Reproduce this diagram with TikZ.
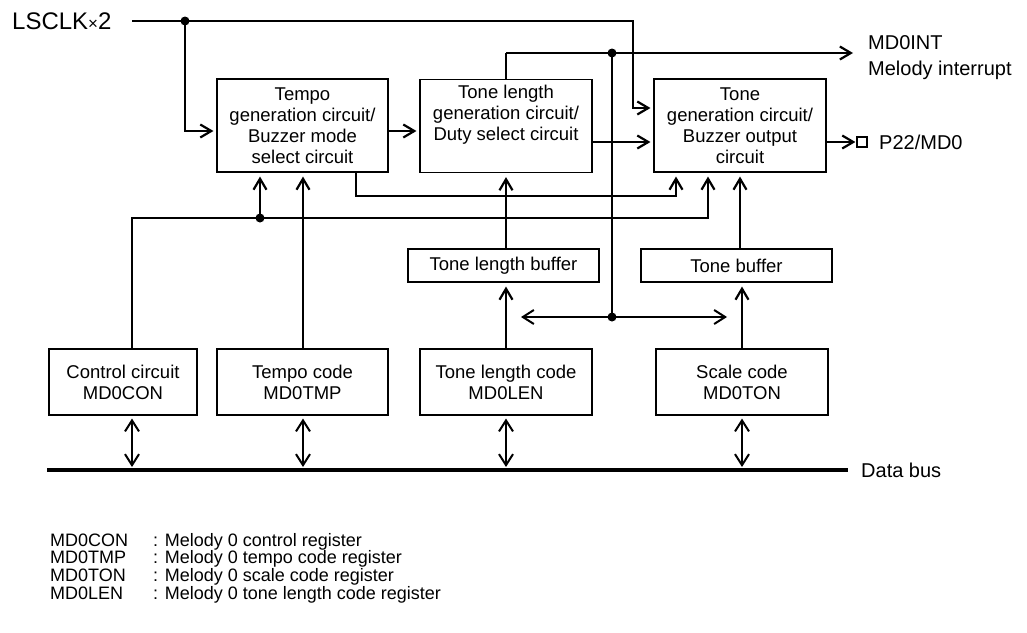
\documentclass[tikz,border=0pt]{standalone}
\usepackage{fontspec}
\setmainfont{Liberation Sans}
\usetikzlibrary{arrows.meta,positioning,calc}
\tikzset{
  blk/.style={draw,line width=1.1pt,align=center,inner sep=0pt,
              font=\fontsize{18.5}{21}\selectfont},
  thin/.style={line width=1.2pt},
  thick/.style={line width=2.4pt},
  tip/.style={-{Straight Barb[length=11pt,width=13pt,line width=2.2pt]}},
  twoway/.style={{Straight Barb[length=11pt,width=14pt,line width=2pt]}-{Straight Barb[length=11pt,width=14pt,line width=2pt]},line width=2pt},
  busline/.style={line width=4pt},
  dot/.style={circle,fill,inner sep=0pt,minimum size=9pt},
  sig/.style={font=\fontsize{20}{24}\selectfont,inner sep=0pt},
  key/.style={font=\fontsize{18}{20}\selectfont,inner sep=0pt,anchor=base west},
}
\begin{document}
\begin{tikzpicture}[x=1pt,y=-1pt]
  \useasboundingbox (0,0) rectangle (1027,632);
  % circuit blocks
  \node[blk,minimum width=171pt,minimum height=93pt] (tempo) at (302.5,125.5)
    {Tempo\\generation circuit/\\Buzzer mode\\select circuit};
  \node[blk,minimum width=172pt,minimum height=93pt,anchor=north] (tlen) at (506,79)
    {Tone length\\generation circuit/\\Duty select circuit\\\strut};
  \node[blk,minimum width=172pt,minimum height=93pt] (tgen) at (740,125.5)
    {Tone\\generation circuit/\\Buzzer output\\circuit};
  \node[blk,minimum width=191pt,minimum height=33pt] (tlbuf) at (503.5,265.5) {Tone length buffer};
  \node[blk,minimum width=191pt,minimum height=33pt] (tbuf) at (736.5,265.5) {Tone buffer};
  % registers
  \node[blk,minimum width=148pt,minimum height=66pt] (ctrl) at (123,382) {Control circuit\\MD0CON};
  \node[blk,minimum width=171pt,minimum height=66pt] (tcode) at (302.5,382) {Tempo code\\MD0TMP};
  \node[blk,minimum width=172pt,minimum height=66pt] (lcode) at (506,382) {Tone length code\\MD0LEN};
  \node[blk,minimum width=172pt,minimum height=66pt] (scode) at (742,382) {Scale code\\MD0TON};

  % clock input
  \node[sig,anchor=west,font=\fontsize{24}{28}\selectfont] (lsclk) at (12,21) {LSCLK{\fontsize{17}{17}\selectfont×}2};
  \coordinate (ck) at (185,21);
  \node[dot] at (ck) {};
  \draw[thin,tip] (132,21) -| (633,108) -- ($(tgen.west|-0,108)+(-3,0)$);
  \draw[thick,tip] (ck) |- ($(tempo.west|-0,131)+(-3,0)$);

  % chain through the upper blocks
  \draw[thick,tip] (tempo.east|-0,131) -- ($(tlen.west|-0,131)+(-3,0)$);
  \draw[thick,tip] (tlen.east|-0,142) -- ($(tgen.west|-0,142)+(-3,0)$);

  % interrupt output
  \node[sig,anchor=west] (int) at (868,43) {MD0INT};
  \node[sig,anchor=west] at (868,70) {Melody interrupt};
  \coordinate (ip) at (612,53);
  \draw[thin] (tlen.north) -- (506,53);
  \draw[thick,tip] (506,53) -- (853,53);
  \node[dot] at (ip) {};
  \coordinate (mid) at (612,317);
  \draw[thick] (ip) -- (mid);
  \node[dot] at (mid) {};
  \draw[twoway,line width=2.4pt] (521,317) -- (727,317);

  % buzzer pin
  \node[draw,thin,minimum size=10pt,inner sep=0pt] (pin) at (862,142) {};
  \node[sig,anchor=west] at (879,142) {P22/MD0};
  \draw[thick,tip] (tgen.east|-pin) -- ($(pin.west)+(-1,0)$);

  % feedback and control lines
  \draw[thin,tip] (356,172) |- (676,196) -- ($(tgen.south-|676,0)+(0,4)$);
  \coordinate (cj) at (260,218);
  \draw[thin,tip] (ctrl.north-|132,0) |- (708,218) -- ($(tgen.south-|708,0)+(0,4)$);
  \node[dot] at (cj) {};
  \draw[thick,tip] (cj) -- ($(tempo.south-|cj)+(0,4)$);
  \draw[thick,tip] (tcode.north-|303,0) -- ($(tempo.south-|303,0)+(0,4)$);
  \draw[thick,tip] (lcode.north) -- ($(tlbuf.south-|lcode)+(0,4)$);
  \draw[thick,tip] (tlbuf.north-|tlen) -- ($(tlen.south)+(0,4)$);
  \draw[thick,tip] (scode.north) -- ($(tbuf.south-|scode)+(0,4)$);
  \draw[thick,tip] (tbuf.north-|tgen) -- ($(tgen.south)+(0,4)$);

  % data bus
  \coordinate (busl) at (47,470);
  \coordinate (busr) at (848,470);
  \draw[busline] (busl) -- (busr);
  \node[sig,anchor=west] at (861,470) {Data bus};
  \draw[twoway] ($(ctrl.south-|132,0)+(0,3)$) -- (132,467);
  \draw[twoway] ($(tcode.south-|303,0)+(0,3)$) -- (303,467);
  \draw[twoway] ($(lcode.south)+(0,3)$) -- (506,467);
  \draw[twoway] ($(scode.south)+(0,3)$) -- (742,467);

  % legend
  \node[key] at (50,546) {MD0CON};
  \node[key] at (153,546) {: Melody 0 control register};
  \node[key] at (50,563.8) {MD0TMP};
  \node[key] at (153,563.8) {: Melody 0 tempo code register};
  \node[key] at (50,581.6) {MD0TON};
  \node[key] at (153,581.6) {: Melody 0 scale code register};
  \node[key] at (50,599.4) {MD0LEN};
  \node[key] at (153,599.4) {: Melody 0 tone length code register};
\end{tikzpicture}
\end{document}
